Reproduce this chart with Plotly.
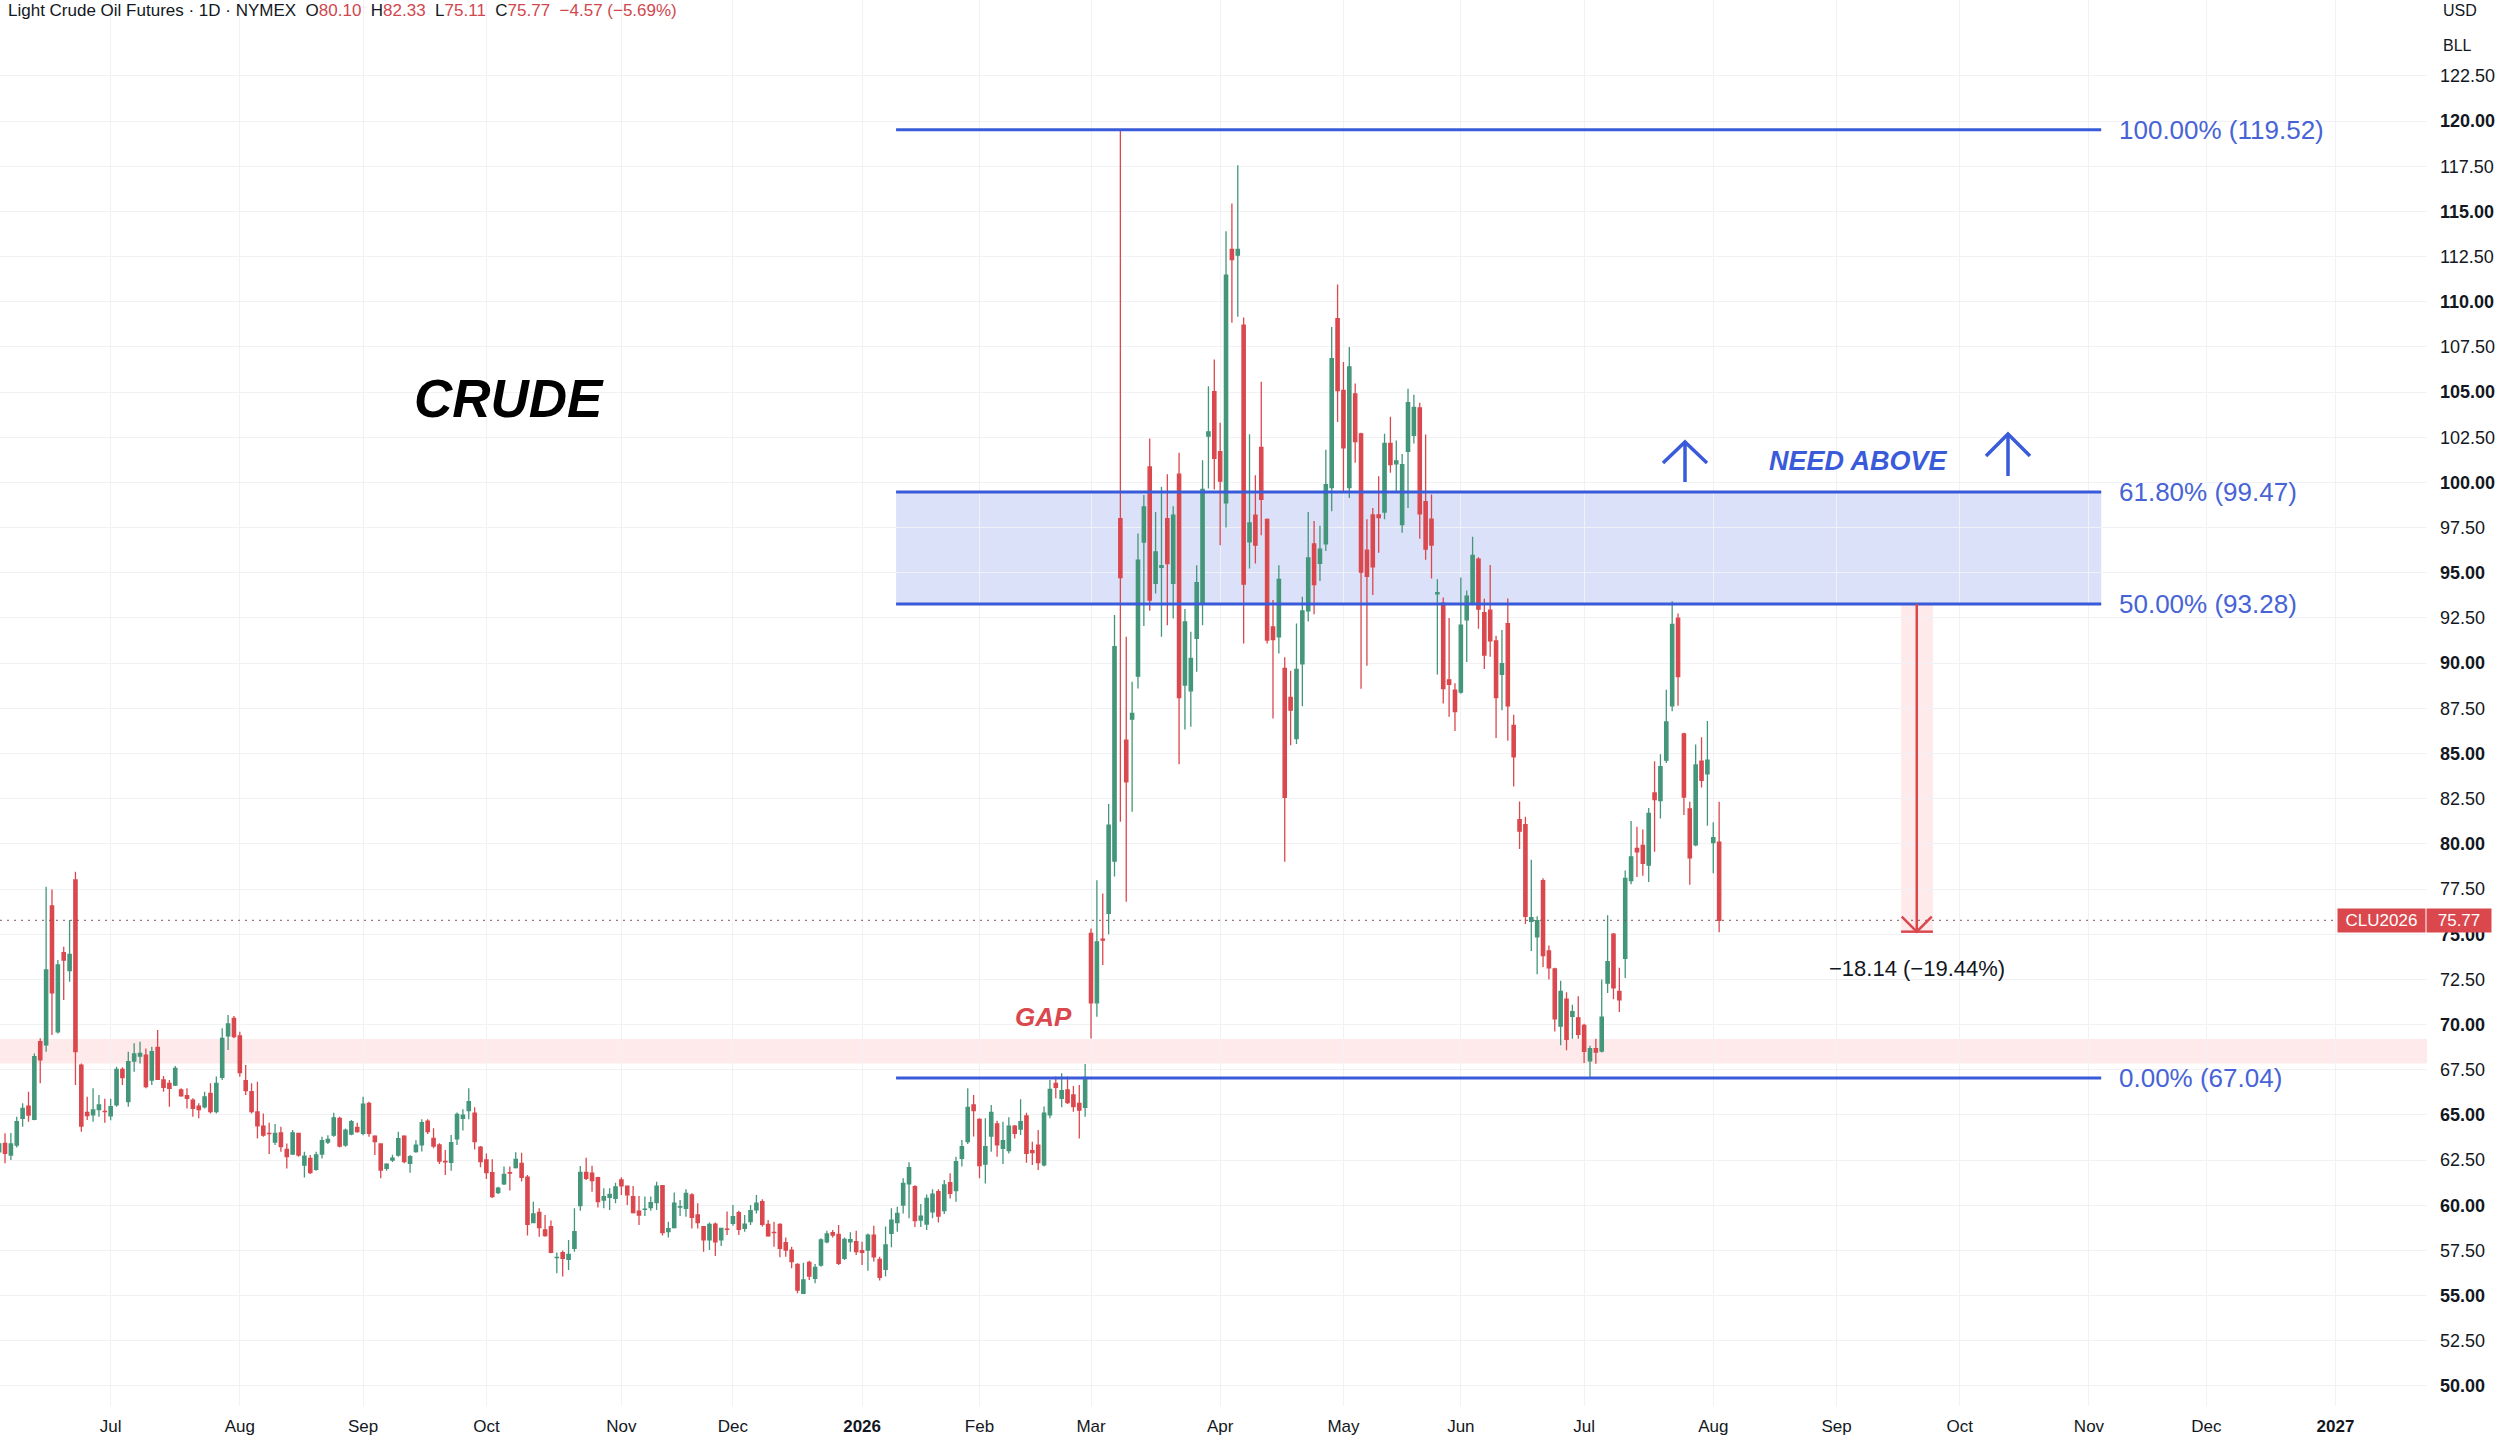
import pandas as pd
import plotly.graph_objects as go

# ---- data: CLU2026 daily bars, Jun 3 2025 -> Aug 4 2026 ----
first_day = "2025-06-03"
last_day = "2026-08-04"
# exchange holidays (no bar) -- also used to drop them from the time axis
holidays = ["2025-06-19", "2025-07-04", "2025-09-01", "2025-11-27", "2025-12-25",
            "2026-01-01", "2026-01-19", "2026-02-16", "2026-04-03", "2026-05-25",
            "2026-06-19", "2026-07-03", "2026-09-07", "2026-11-26", "2026-12-25",
            "2027-01-01", "2027-01-18"]

open_ = [
    # Jun 2025
    62.95, 63.42, 62.78, 63.33, 64.81, 65.49, 64.75, 69.05, 68.87, 76.56, 69.60, 73.98, 72.98, 78.00, 67.76, 65.14, 65.00, 65.30, 65.20,
    # Jul
    64.95, 65.55, 67.52, 65.73, 67.98, 68.26, 68.31, 66.93, 68.74, 66.93, 66.75, 66.65, 66.38, 66.06, 65.82, 65.49, 65.45, 66.19, 65.18, 67.08, 69.37, 70.34,
    # Aug
    69.37, 66.89, 66.28, 65.16, 64.38, 63.98, 63.50, 64.00, 63.09, 62.83, 63.98, 62.22, 62.59, 61.98, 62.83, 63.50, 63.88, 64.81, 63.33, 63.94, 64.31,
    # Sep
    63.98, 65.64, 63.83, 63.39, 62.04, 62.50, 62.78, 63.83, 62.32, 62.97, 63.34, 64.66, 63.70, 63.34, 62.42, 62.38, 63.67, 64.81, 65.24, 65.09, 63.21,
    # Oct
    62.51, 61.80, 60.70, 61.18, 61.80, 62.08, 62.32, 61.55, 59.04, 59.61, 58.63, 58.82, 57.10, 57.38, 57.01, 57.62, 59.98, 61.82, 61.77, 61.53, 60.29, 60.44, 60.38,
    # Nov
    61.40, 61.06, 60.48, 59.68, 59.77, 59.87, 60.14, 61.08, 58.54, 58.76, 59.90, 59.83, 60.57, 59.46, 58.82, 58.08, 58.96, 58.08, 58.68,
    # Dec
    59.00, 59.59, 58.72, 59.09, 59.74, 60.20, 58.94, 58.50, 58.94, 57.93, 57.52, 56.73, 55.13, 56.84, 55.96, 56.69, 57.98, 58.48, 58.39, 57.06, 57.98, 57.98,
    # Jan 2026
    57.49, 57.52, 58.35, 57.00, 56.45, 58.44, 59.04, 60.01, 61.18, 61.03, 59.18, 58.96, 59.64, 60.75, 59.70, 61.25, 60.81, 62.60, 63.52, 65.55,
    # Feb
    64.75, 62.28, 63.83, 64.50, 63.15, 63.02, 64.38, 64.22, 64.94, 63.02, 63.33, 62.23, 65.00, 66.75, 65.92, 66.38, 66.10, 65.64, 65.42,
    # Mar
    75.04, 71.20, 74.73, 76.15, 79.04, 98.00, 85.74, 86.90, 89.28, 96.70, 100.86, 94.41, 95.30, 98.00, 94.41, 100.46, 88.79, 88.47, 91.37, 93.30, 102.56, 105.02,
    # Apr
    101.70, 98.87, 112.90, 112.58, 108.71, 96.71, 98.19, 101.94, 97.95, 92.00, 91.46, 89.71, 88.10, 85.83, 89.96, 92.89, 96.60, 95.53, 96.60, 99.72, 109.06,
    # May
    105.09, 99.72, 104.90, 102.69, 96.25, 98.20, 98.20, 98.36, 102.16, 101.03, 97.67, 101.72, 102.61, 104.12, 98.94, 97.97, 93.83, 93.32, 89.08, 88.50,
    # Jun
    88.40, 92.40, 93.28, 95.76, 92.79, 92.93, 91.23, 89.38, 92.19, 86.55, 81.34, 81.06, 75.71, 74.86, 77.97, 74.07, 73.08, 69.91, 71.40, 70.45, 70.37,
    # Jul
    69.95, 67.99, 68.66, 68.53, 72.29, 75.00, 71.83, 73.67, 77.97, 79.75, 79.91, 78.82, 82.82, 82.39, 84.63, 87.64, 92.49, 86.09, 81.93, 79.95, 84.57, 83.87,
    # Aug
    80.07, 80.10,
]
high = [
    63.55, 63.98, 64.00, 64.90, 65.64, 66.28, 68.40, 69.24, 77.63, 77.48, 73.57, 74.31, 75.79, 78.46, 67.85, 66.00, 66.47, 66.10, 65.90,
    65.90, 67.67, 67.63, 68.50, 68.96, 69.05, 68.68, 68.77, 69.70, 67.15, 66.93, 67.70, 66.47, 66.47, 65.92, 65.64, 66.28, 66.75, 67.12, 69.79, 70.53, 70.47,
    69.60, 67.76, 66.75, 66.84, 65.08, 64.57, 64.50, 64.35, 63.42, 64.16, 64.01, 62.96, 62.78, 62.96, 63.79, 63.88, 65.12, 64.90, 64.25, 64.72, 64.57,
    66.00, 65.73, 63.88, 63.42, 62.32, 62.80, 64.07, 63.88, 62.78, 63.60, 64.76, 64.76, 64.26, 63.43, 63.06, 63.89, 65.13, 65.31, 66.47, 65.42, 63.28,
    62.87, 62.54, 61.03, 62.14, 62.14, 62.93, 62.91, 61.67, 60.20, 59.83, 59.46, 59.15, 57.38, 57.49, 58.08, 59.83, 62.17, 62.63, 62.19, 61.58, 60.94, 60.94, 61.25,
    61.55, 61.07, 61.07, 60.51, 60.48, 60.48, 61.30, 61.12, 59.09, 60.70, 60.29, 60.88, 60.66, 60.11, 58.85, 59.04, 59.04, 58.76, 59.65,
    60.01, 59.70, 59.46, 60.01, 60.57, 60.33, 59.18, 59.09, 59.00, 58.22, 57.71, 56.79, 56.82, 56.93, 56.75, 58.17, 58.59, 58.63, 58.91, 58.22, 58.50, 58.59,
    57.98, 58.44, 58.87, 57.15, 58.82, 59.83, 59.92, 61.49, 62.38, 61.10, 60.07, 60.60, 60.88, 60.88, 61.40, 61.77, 62.69, 63.61, 66.47, 66.10,
    64.81, 64.81, 65.55, 64.68, 64.62, 64.87, 64.44, 65.86, 65.12, 63.52, 64.16, 65.46, 66.93, 67.12, 67.30, 67.12, 66.60, 66.65, 67.82,
    75.32, 77.99, 77.25, 82.20, 92.66, 119.52, 91.46, 88.97, 97.17, 99.30, 102.43, 98.37, 99.76, 100.46, 98.69, 101.64, 93.00, 91.74, 95.42, 101.23, 105.33, 106.81,
    103.30, 113.90, 115.44, 117.56, 109.13, 102.67, 100.40, 105.57, 98.00, 93.50, 95.42, 90.32, 89.58, 92.20, 93.67, 98.36, 97.87, 97.61, 101.81, 108.61, 110.95,
    106.66, 107.50, 105.48, 102.75, 97.97, 98.59, 100.35, 102.69, 103.63, 102.32, 101.58, 105.19, 104.86, 104.41, 102.65, 99.33, 94.65, 93.63, 92.50, 88.89,
    94.74, 94.02, 96.99, 95.86, 93.57, 95.43, 91.52, 91.83, 93.58, 87.14, 82.35, 81.50, 79.12, 75.99, 78.09, 74.37, 73.14, 72.43, 71.79, 71.10, 71.56,
    70.05, 68.82, 69.22, 72.49, 76.05, 75.06, 73.14, 78.53, 81.26, 80.94, 80.80, 81.99, 84.57, 84.96, 88.53, 93.42, 92.75, 86.15, 82.33, 85.50, 85.90, 86.80,
    81.20, 82.33,
]
low = [
    62.85, 62.32, 62.50, 63.20, 64.35, 64.62, 64.70, 66.75, 68.50, 69.42, 69.50, 71.36, 72.37, 66.65, 64.07, 64.72, 64.62, 64.90, 64.57,
    64.70, 65.45, 66.65, 65.45, 67.39, 67.85, 66.47, 66.65, 66.93, 66.28, 65.45, 66.60, 66.00, 65.36, 64.90, 64.81, 65.36, 65.08, 65.08, 66.93, 68.59, 69.24,
    67.11, 66.10, 65.08, 63.70, 63.79, 62.83, 63.33, 62.96, 62.04, 62.78, 62.69, 61.54, 61.73, 61.91, 62.59, 63.39, 63.79, 63.20, 63.24, 63.88, 64.01,
    63.88, 63.79, 62.78, 61.49, 61.91, 62.40, 62.69, 62.32, 61.80, 62.90, 62.97, 63.94, 63.15, 62.28, 61.67, 61.91, 63.34, 64.13, 64.76, 63.09, 62.10,
    61.45, 60.40, 60.62, 61.12, 60.81, 62.04, 61.31, 58.32, 59.00, 58.26, 58.26, 57.34, 56.23, 56.05, 56.42, 57.43, 59.70, 61.40, 60.75, 59.87, 59.83, 59.74, 60.11,
    60.57, 60.01, 59.55, 58.91, 59.41, 59.70, 59.74, 58.32, 58.22, 58.72, 59.41, 59.37, 58.72, 58.72, 57.43, 57.52, 57.19, 57.75, 58.35,
    58.87, 58.35, 58.54, 58.91, 59.55, 58.82, 58.26, 57.71, 57.12, 57.15, 56.51, 55.13, 55.10, 55.86, 55.68, 56.60, 57.89, 58.22, 56.69, 56.97, 57.43, 57.25,
    56.69, 56.38, 56.88, 55.83, 56.05, 57.67, 58.54, 59.55, 59.28, 58.80, 58.80, 58.63, 59.28, 59.04, 59.52, 60.38, 60.20, 62.14, 63.39, 63.80,
    61.49, 61.21, 62.96, 62.69, 62.28, 62.87, 63.70, 63.89, 62.35, 62.23, 61.95, 62.14, 64.81, 65.92, 65.42, 65.60, 65.18, 63.70, 64.90,
    69.23, 70.43, 73.29, 75.00, 78.20, 81.22, 76.79, 81.77, 88.60, 92.05, 92.90, 93.85, 91.46, 92.10, 92.47, 84.41, 86.33, 86.48, 89.52, 92.10, 99.67, 99.61,
    96.53, 97.51, 108.84, 109.17, 91.09, 95.24, 95.51, 97.08, 91.09, 86.94, 90.54, 79.01, 85.46, 85.52, 87.62, 92.30, 92.70, 94.55, 96.21, 98.40, 103.34,
    99.53, 99.14, 101.09, 88.59, 89.86, 93.77, 96.11, 97.97, 100.54, 99.43, 97.22, 98.59, 102.16, 96.89, 95.72, 94.69, 89.37, 87.77, 87.03, 86.25,
    88.30, 90.06, 93.20, 91.91, 89.67, 90.35, 85.86, 87.40, 85.70, 83.18, 79.71, 75.56, 74.07, 72.78, 73.18, 72.49, 69.62, 68.86, 68.58, 69.22, 69.22,
    67.87, 67.04, 67.83, 68.45, 71.75, 71.40, 70.70, 72.58, 77.77, 78.17, 78.23, 77.89, 79.56, 81.40, 84.47, 87.34, 87.64, 81.60, 77.73, 79.87, 83.12, 81.00,
    78.37, 75.11,
]
close = [
    63.40, 62.87, 63.39, 64.62, 65.36, 64.99, 68.22, 68.04, 73.02, 71.76, 73.30, 73.57, 73.88, 68.50, 64.38, 64.96, 65.27, 65.55, 65.18,
    65.45, 67.52, 67.06, 67.94, 68.37, 68.41, 66.56, 68.50, 66.97, 66.52, 66.47, 67.58, 66.06, 65.92, 65.36, 65.30, 66.00, 65.18, 66.75, 69.24, 70.03, 69.33,
    67.34, 66.34, 65.18, 64.40, 63.88, 63.96, 63.98, 63.24, 62.69, 64.01, 62.78, 62.72, 61.80, 62.78, 63.57, 63.65, 64.84, 63.28, 64.16, 64.62, 64.07,
    65.60, 63.98, 63.52, 61.95, 62.28, 62.60, 63.68, 62.41, 62.69, 63.33, 64.57, 64.07, 63.28, 62.45, 62.40, 63.46, 65.03, 64.99, 65.73, 63.52, 62.41,
    61.80, 60.48, 60.94, 61.71, 61.78, 62.54, 61.55, 58.94, 59.52, 58.76, 58.32, 57.39, 57.12, 57.06, 57.28, 58.54, 61.82, 61.49, 61.36, 60.20, 60.48, 60.60, 61.01,
    61.08, 60.57, 59.59, 59.46, 59.79, 60.14, 61.06, 58.48, 58.70, 60.11, 59.92, 60.66, 59.33, 59.04, 58.08, 58.94, 57.98, 58.72, 58.67,
    59.37, 58.67, 58.96, 59.70, 60.11, 58.94, 58.30, 58.48, 57.62, 57.52, 56.88, 55.31, 55.87, 56.08, 56.56, 58.08, 58.41, 58.35, 56.78, 58.11, 58.10, 57.43,
    57.40, 58.35, 57.15, 56.01, 57.80, 59.18, 59.55, 61.21, 62.08, 59.15, 59.40, 60.38, 60.62, 59.40, 61.12, 60.66, 62.41, 63.24, 65.42, 65.24,
    62.19, 63.24, 65.14, 63.34, 63.57, 64.38, 63.98, 64.62, 62.87, 62.91, 62.36, 65.09, 66.41, 66.53, 66.34, 65.68, 65.46, 65.27, 67.08,
    71.20, 74.58, 74.67, 81.04, 90.91, 94.74, 83.43, 87.22, 95.70, 98.65, 93.49, 96.16, 95.40, 95.51, 98.19, 88.10, 92.29, 90.26, 94.45, 99.61, 102.80, 101.33,
    100.07, 111.47, 112.34, 112.90, 94.37, 97.76, 96.53, 99.06, 91.28, 91.31, 94.63, 82.57, 87.40, 89.65, 92.89, 95.82, 94.35, 96.31, 99.88, 106.85, 105.09,
    101.91, 106.40, 102.26, 95.04, 94.80, 95.33, 98.05, 102.16, 100.99, 101.19, 100.99, 104.41, 104.16, 98.26, 96.31, 96.54, 93.90, 88.59, 88.83, 87.32,
    92.11, 93.71, 95.97, 92.99, 90.45, 91.23, 88.10, 89.97, 87.64, 84.82, 80.70, 75.99, 75.91, 75.75, 73.81, 73.14, 70.31, 71.83, 69.18, 70.71, 69.46,
    68.52, 68.66, 68.47, 70.41, 73.48, 72.03, 71.36, 78.09, 79.28, 79.56, 78.92, 81.69, 82.45, 84.27, 86.75, 92.15, 89.26, 82.59, 79.22, 84.37, 83.52, 84.63,
    80.34, 75.77,
]

# time axis labels (first bar of each month)
month_ticks = ["2025-07-01", "2025-08-01", "2025-09-02", "2025-10-01", "2025-11-03", "2025-12-01",
               "2026-01-02", "2026-02-02", "2026-03-02", "2026-04-01", "2026-05-01", "2026-06-01",
               "2026-07-01", "2026-08-03", "2026-09-01", "2026-10-01", "2026-11-02", "2026-12-01",
               "2027-01-04"]
month_labels = ["Jul", "Aug", "Sep", "Oct", "Nov", "Dec", "<b>2026</b>", "Feb", "Mar", "Apr", "May",
                "Jun", "Jul", "Aug", "Sep", "Oct", "Nov", "Dec", "<b>2027</b>"]

# fib retracement drawn on the chart
fib_pcts = [100.0, 61.8, 50.0, 0.0]
fib_levels = [119.52, 99.47, 93.28, 67.04]
fib_start = "2026-01-09 19:00"
fib_end = "2026-11-04 02:00"

# other drawings
gap_low, gap_high = 67.85, 69.20
measure_from, measure_to = 93.28, 75.14
measure_x0, measure_x, measure_x1 = "2026-09-17", "2026-09-21 16:00", "2026-09-24 10:00"
symbol = "CLU2026"

# ---- styling ----
UP, DOWN = "#44967a", "#da484e"
BLUE = "#3a5bd9"
TXT = "#131722"
FONT = "Liberation Sans, Arial, sans-serif"
W, H = 2500, 1436
PLOT_W, PLOT_H = 2427, 1406


def px(x):
    return x / PLOT_W


def py(y):
    return 1 - y / PLOT_H


dates = pd.bdate_range(first_day, last_day, freq="C", holidays=holidays)
dates = dates[:len(close)]

fig = go.Figure()
fig.add_trace(go.Candlestick(
    x=dates, open=open_, high=high, low=low, close=close,
    increasing=dict(line=dict(color=UP, width=1.3), fillcolor=UP),
    decreasing=dict(line=dict(color=DOWN, width=1.3), fillcolor=DOWN),
    hoverinfo="skip", showlegend=False,
))

shapes = []
# 50 - 61.8 zone
shapes.append(dict(type="rect", xref="x", yref="y", x0=fib_start, x1=fib_end,
                   y0=fib_levels[2], y1=fib_levels[1], fillcolor="rgba(58,91,217,0.18)",
                   line=dict(width=0), layer="below"))
# gap band
shapes.append(dict(type="rect", xref="paper", yref="y", x0=0, x1=1, y0=gap_low, y1=gap_high,
                   fillcolor="rgba(242,54,69,0.11)", line=dict(width=0), layer="below"))
# price range measure
shapes.append(dict(type="rect", xref="x", yref="y", x0=measure_x0, x1=measure_x1,
                   y0=measure_to, y1=measure_from, fillcolor="rgba(242,54,69,0.11)",
                   line=dict(width=0), layer="below"))
for lvl in fib_levels:
    shapes.append(dict(type="line", xref="x", yref="y", x0=fib_start, x1=fib_end, y0=lvl, y1=lvl,
                       line=dict(color=BLUE, width=3)))
# last price line
shapes.append(dict(type="line", xref="paper", yref="y", x0=0, x1=1, y0=close[-1], y1=close[-1],
                   line=dict(color="rgba(125,85,90,0.8)", width=1.2, dash="2px,5px")))
shapes.append(dict(type="line", xref="x", yref="y", x0=measure_x, x1=measure_x,
                   y0=measure_from, y1=measure_to, line=dict(color=DOWN, width=2.5)))
shapes.append(dict(type="line", xref="x", yref="y", x0=measure_x0, x1=measure_x1,
                   y0=measure_to, y1=measure_to, line=dict(color=DOWN, width=2.5)))
shapes.append(dict(type="path", xref="x", yref="y", xsizemode="pixel", ysizemode="pixel",
                   xanchor=measure_x, yanchor=measure_to, path="M -15,15 L 0,0 L 15,15",
                   line=dict(color=DOWN, width=2.5)))
# "need above" arrows
for cx, top, bot, head in [(1685, 442, 482, 21), (2008, 434, 476, 22)]:
    shapes.append(dict(type="line", xref="paper", yref="paper", x0=px(cx), x1=px(cx),
                       y0=py(top), y1=py(bot), line=dict(color=BLUE, width=3.5)))
    shapes.append(dict(type="path", xref="paper", yref="paper",
                       path=f"M {px(cx - 22)},{py(top + head)} L {px(cx)},{py(top)} L {px(cx + 22)},{py(top + head)}",
                       line=dict(color=BLUE, width=3.5)))

annotations = []
chg = close[-1] - close[-2]
pct = chg / close[-2] * 100
red = "#d0474e"
header = (f"Light Crude Oil Futures · 1D · NYMEX\u00a0\u00a0O<span style='color:{red}'>{open_[-1]:.2f}</span>"
          f"\u00a0\u00a0H<span style='color:{red}'>{high[-1]:.2f}</span>"
          f"\u00a0\u00a0L<span style='color:{red}'>{low[-1]:.2f}</span>"
          f"\u00a0\u00a0C<span style='color:{red}'>{close[-1]:.2f}</span>"
          f"\u00a0\u00a0<span style='color:{red}'>{chg:.2f} ({pct:.2f}%)</span>").replace("-", "\u2212")


def label(x, y, text, size, color, xref="paper", yref="paper", xanchor="center", **kw):
    return dict(xref=xref, yref=yref, x=x, y=y, text=text, showarrow=False,
                xanchor=xanchor, yanchor="middle",
                font=dict(size=size, color=color, family=FONT), **kw)


annotations.append(label(px(6), py(11), header, 17, TXT, xanchor="left"))
annotations.append(label(px(509), py(398), "<b><i>CRUDE</i></b>", 53, "#000000"))
annotations.append(label(px(1858), py(461), "<b><i>NEED ABOVE</i></b>", 27, BLUE))
annotations.append(label(px(1043), py(1017), "<b><i>GAP</i></b>", 26, DOWN))
annotations.append(label(measure_x, measure_to, "\u221218.14 (\u221219.44%)", 22, TXT,
                         xref="x", yref="y", yshift=-37))
for p, lvl in zip(fib_pcts, fib_levels):
    annotations.append(label(px(2117), lvl, f"{p:.2f}% ({lvl:.2f})", 26, "#4763d6",
                             yref="y", xanchor="left"))
# last price tag on the price scale
annotations.append(label(px(2381.5), close[-1], symbol, 17, "white", yref="y",
                         width=87, height=23, bgcolor=DOWN, borderpad=0))
annotations.append(label(px(2459), close[-1], f"{close[-1]:.2f}", 17, "white", yref="y",
                         width=64, height=23, bgcolor=DOWN, borderpad=0))
annotations.append(label(px(2441), py(11), "USD", 16, TXT, xanchor="left"))
annotations.append(label(px(2441), py(46), "BLL", 16, TXT, xanchor="left"))

price_ticks = [50 + 2.5 * i for i in range(30)]
price_labels = [f"<b>{v:.2f}</b>" if v % 5 == 0 else f"{v:.2f}" for v in price_ticks]

fig.update_layout(
    width=W, height=H,
    margin=dict(l=0, r=W - PLOT_W, t=0, b=H - PLOT_H),
    paper_bgcolor="white", plot_bgcolor="white",
    showlegend=False, dragmode=False, hovermode=False,
    boxgap=0.2,
    shapes=shapes, annotations=annotations,
    font=dict(family=FONT, color=TXT),
)
fig.update_xaxes(
    type="date", range=["2025-06-03 03:30", "2027-01-26 14:00"],
    rangebreaks=[dict(bounds=["sat", "mon"]), dict(values=holidays)],
    rangeslider_visible=False, automargin=False,
    tickmode="array", tickvals=month_ticks, ticktext=month_labels,
    showgrid=True, gridcolor="#f0f2f5", gridwidth=1,
    ticks="", ticklabelstandoff=8, tickfont=dict(size=17, color=TXT, family=FONT),
    showline=False, zeroline=False, fixedrange=True,
)
fig.update_yaxes(
    side="right", range=[48.89, 126.70], automargin=False,
    tickmode="array", tickvals=price_ticks, ticktext=price_labels,
    showgrid=True, gridcolor="#f0f2f5", gridwidth=1,
    ticks="", ticklabelstandoff=12, tickfont=dict(size=18, color=TXT, family=FONT),
    showline=False, zeroline=False, fixedrange=True,
)

fig.write_html("out.html", config={"displayModeBar": False},
               post_script="document.body.style.margin='0';document.body.style.overflow='hidden';")
